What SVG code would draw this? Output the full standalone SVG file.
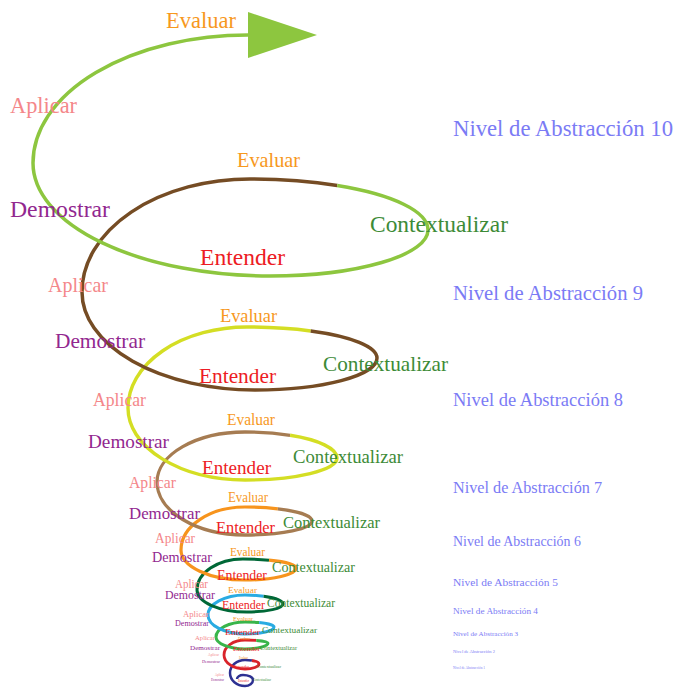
<svg xmlns="http://www.w3.org/2000/svg" width="678" height="688" viewBox="0 0 678 688">
<style>
text{font-family:"Liberation Serif","Times New Roman",serif;}
.ev{fill:#f7981d}
.ap{fill:#f4878a}
.de{fill:#92278f}
.en{fill:#ed1c24}
.co{fill:#3d8b37}
.ni{fill:#7b7bf5}
.sp{fill:none;stroke-linecap:butt}
</style>
<defs>
<marker id="head" markerUnits="userSpaceOnUse" markerWidth="70" markerHeight="46" refX="0" refY="23" orient="auto-start-reverse" viewBox="0 0 70 46">
<path d="M0,0 L69,23 L0,46 Z" fill="#8dc63f"/>
</marker>
</defs>
<rect width="678" height="688" fill="#ffffff"/>
<g id="connectors">
<path class="sp" stroke="#2e3192" stroke-width="2.5" d="M251.9,660.5 A14 4 0 0 0 245,660 A15 13 0 0 0 230,673 A15 13 0 0 0 245,686 A8 6 0 0 0 253,680 A10 5 0 0 0 243,675 A6 4 0 0 0 237,679"/>
<path class="sp" stroke="#d9232a" stroke-width="2.8" d="M256.3,640.4 A23 3 0 0 0 245,640 A21 15 0 0 0 224,655 A21 14 0 0 0 245,669 A14 5 0 0 0 259,664 A14 4 0 0 0 251.9,660.5"/>
<path class="sp" stroke="#39b54a" stroke-width="3" d="M259.2,622.6 A29 5 0 0 0 245,622 A29 15 0 0 0 216,637 A29 12 0 0 0 245,649 A23 6 0 0 0 268,643 A23 3 0 0 0 256.3,640.4"/>
<path class="sp" stroke="#29abe2" stroke-width="3" d="M263.6,596.2 A38 9 0 0 0 245,595 A37 20 0 0 0 208,615 A37 19 0 0 0 245,634 A29 7 0 0 0 274,627 A29 5 0 0 0 259.2,622.6"/>
<path class="sp" stroke="#006837" stroke-width="3" d="M269,560.2 A53 9 0 0 0 243,559 A46 31 0 0 0 197,590 A50 22 0 0 0 247,612 A36 8 0 0 0 283,604 A38 9 0 0 0 263.6,596.2"/>
<path class="sp" stroke="#f7941d" stroke-width="3.2" d="M277.8,508.8 A67 14 0 0 0 245,507 A64 43 0 0 0 181,550 A64 30 0 0 0 245,580 A51 12 0 0 0 296,568 A53 9 0 0 0 269,560.2"/>
<path class="sp" stroke="#a67c52" stroke-width="3.3" d="M290.1,435.3 A92 26 0 0 0 245,432 A88 50 0 0 0 157,482 A88 53 0 0 0 245,535 A67 14 0 0 0 312,521 A67 14 0 0 0 277.8,508.8"/>
<path class="sp" stroke="#d4de24" stroke-width="3.4" d="M310.7,331 A130 31 0 0 0 247,327 A119 81 0 0 0 128,408 A117 72 0 0 0 245,480 A92 22 0 0 0 337,458 A92 26 0 0 0 290.1,435.3"/>
<path class="sp" stroke="#754c24" stroke-width="3.5" d="M337.2,185.5 A178 51 0 0 0 250,179 A168 113 0 0 0 82,292 A173 98 0 0 0 255,390 A122 32 0 0 0 377,358 A130 31 0 0 0 310.7,331"/>
<path class="sp" stroke="#8dc63f" stroke-width="3.5" marker-start="url(#head)" d="M248,35 A215 128 0 0 0 33,163 A237 113 0 0 0 270,276 A158 46 0 0 0 428,230 A178 51 0 0 0 337.2,185.5"/>
</g>
<g id="nivel-10">
<text class="ev" x="166" y="28" font-size="23" textLength="70" lengthAdjust="spacingAndGlyphs">Evaluar</text>
<text class="ap" x="10" y="113" font-size="23" textLength="67" lengthAdjust="spacingAndGlyphs">Aplicar</text>
<text class="de" x="10" y="217" font-size="23" textLength="100" lengthAdjust="spacingAndGlyphs">Demostrar</text>
<text class="en" x="200" y="265" font-size="23" textLength="85" lengthAdjust="spacingAndGlyphs">Entender</text>
<text class="co" x="370" y="232" font-size="23" textLength="138" lengthAdjust="spacingAndGlyphs">Contextualizar</text>
<text class="ni" x="453" y="136" font-size="23" textLength="220" lengthAdjust="spacingAndGlyphs">Nivel de Abstracción 10</text>
</g>
<g id="nivel-9">
<text class="ev" x="237" y="167" font-size="21" textLength="63" lengthAdjust="spacingAndGlyphs">Evaluar</text>
<text class="ap" x="48" y="292" font-size="21" textLength="60" lengthAdjust="spacingAndGlyphs">Aplicar</text>
<text class="de" x="55" y="348" font-size="21" textLength="90" lengthAdjust="spacingAndGlyphs">Demostrar</text>
<text class="en" x="199" y="383" font-size="21" textLength="77" lengthAdjust="spacingAndGlyphs">Entender</text>
<text class="co" x="323" y="371" font-size="21" textLength="125" lengthAdjust="spacingAndGlyphs">Contextualizar</text>
<text class="ni" x="453" y="300" font-size="20.5" textLength="190" lengthAdjust="spacingAndGlyphs">Nivel de Abstracción 9</text>
</g>
<g id="nivel-8">
<text class="ev" x="220" y="322" font-size="18.7" textLength="57" lengthAdjust="spacingAndGlyphs">Evaluar</text>
<text class="ap" x="93" y="406" font-size="18.7" textLength="53" lengthAdjust="spacingAndGlyphs">Aplicar</text>
<text class="de" x="88" y="448" font-size="18.7" textLength="81" lengthAdjust="spacingAndGlyphs">Demostrar</text>
<text class="en" x="202" y="474" font-size="18.7" textLength="69" lengthAdjust="spacingAndGlyphs">Entender</text>
<text class="co" x="293" y="463" font-size="18.7" textLength="110" lengthAdjust="spacingAndGlyphs">Contextualizar</text>
<text class="ni" x="453" y="406" font-size="18.4" textLength="170" lengthAdjust="spacingAndGlyphs">Nivel de Abstracción 8</text>
</g>
<g id="nivel-7">
<text class="ev" x="227" y="425" font-size="16.3" textLength="48" lengthAdjust="spacingAndGlyphs">Evaluar</text>
<text class="ap" x="129" y="488" font-size="16.3" textLength="47" lengthAdjust="spacingAndGlyphs">Aplicar</text>
<text class="de" x="129" y="519" font-size="16.3" textLength="71" lengthAdjust="spacingAndGlyphs">Demostrar</text>
<text class="en" x="216" y="533" font-size="16.3" textLength="59" lengthAdjust="spacingAndGlyphs">Entender</text>
<text class="co" x="283" y="528" font-size="16.3" textLength="97" lengthAdjust="spacingAndGlyphs">Contextualizar</text>
<text class="ni" x="453" y="493" font-size="16" textLength="149" lengthAdjust="spacingAndGlyphs">Nivel de Abstracción 7</text>
</g>
<g id="nivel-6">
<text class="ev" x="228" y="502" font-size="13.8" textLength="40" lengthAdjust="spacingAndGlyphs">Evaluar</text>
<text class="ap" x="155" y="543" font-size="13.8" textLength="40" lengthAdjust="spacingAndGlyphs">Aplicar</text>
<text class="de" x="152" y="562" font-size="13.8" textLength="60" lengthAdjust="spacingAndGlyphs">Demostrar</text>
<text class="en" x="217" y="580" font-size="13.8" textLength="50" lengthAdjust="spacingAndGlyphs">Entender</text>
<text class="co" x="272" y="572" font-size="13.8" textLength="83" lengthAdjust="spacingAndGlyphs">Contextualizar</text>
<text class="ni" x="453" y="546" font-size="13.8" textLength="128" lengthAdjust="spacingAndGlyphs">Nivel de Abstracción 6</text>
</g>
<g id="nivel-5">
<text class="ev" x="230" y="556" font-size="11.5" textLength="35" lengthAdjust="spacingAndGlyphs">Evaluar</text>
<text class="ap" x="175" y="588" font-size="11.5" textLength="33" lengthAdjust="spacingAndGlyphs">Aplicar</text>
<text class="de" x="165" y="599" font-size="11.5" textLength="50" lengthAdjust="spacingAndGlyphs">Demostrar</text>
<text class="en" x="222" y="609" font-size="11.5" textLength="43" lengthAdjust="spacingAndGlyphs">Entender</text>
<text class="co" x="267" y="607" font-size="11.5" textLength="68" lengthAdjust="spacingAndGlyphs">Contextualizar</text>
<text class="ni" x="453" y="586" font-size="11.4" textLength="105" lengthAdjust="spacingAndGlyphs">Nivel de Abstracción 5</text>
</g>
<g id="nivel-4">
<text class="ev" x="228" y="593" font-size="9.2" textLength="29" lengthAdjust="spacingAndGlyphs">Evaluar</text>
<text class="ap" x="183" y="617" font-size="9.2" textLength="26" lengthAdjust="spacingAndGlyphs">Aplicar</text>
<text class="de" x="175" y="626" font-size="9.2" textLength="34" lengthAdjust="spacingAndGlyphs">Demostrar</text>
<text class="en" x="225" y="635" font-size="9.2" textLength="35" lengthAdjust="spacingAndGlyphs">Entender</text>
<text class="co" x="262" y="633" font-size="9.2" textLength="55" lengthAdjust="spacingAndGlyphs">Contextualizar</text>
<text class="ni" x="453" y="614" font-size="9.2" textLength="85" lengthAdjust="spacingAndGlyphs">Nivel de Abstracción 4</text>
</g>
<g id="nivel-3">
<text class="ev" x="233" y="621" font-size="7" textLength="20" lengthAdjust="spacingAndGlyphs">Evaluar</text>
<text class="ap" x="195" y="640" font-size="7" textLength="20" lengthAdjust="spacingAndGlyphs">Aplicar</text>
<text class="de" x="190" y="650" font-size="7" textLength="30" lengthAdjust="spacingAndGlyphs">Demostrar</text>
<text class="en" x="233" y="651" font-size="7" textLength="27" lengthAdjust="spacingAndGlyphs">Entender</text>
<text class="co" x="260" y="650" font-size="7" textLength="37" lengthAdjust="spacingAndGlyphs">Contextualizar</text>
<text class="ni" x="453" y="636" font-size="7" textLength="65" lengthAdjust="spacingAndGlyphs">Nivel de Abstracción 3</text>
</g>
<g id="nivel-2">
<text class="ev" x="238" y="640" font-size="4.5" textLength="12" lengthAdjust="spacingAndGlyphs">Evaluar</text>
<text class="ap" x="208" y="656" font-size="4.5" textLength="11" lengthAdjust="spacingAndGlyphs">Aplicar</text>
<text class="de" x="202" y="663" font-size="4.5" textLength="18" lengthAdjust="spacingAndGlyphs">Demostrar</text>
<text class="en" x="234" y="668" font-size="4.5" textLength="15" lengthAdjust="spacingAndGlyphs">Entender</text>
<text class="co" x="257" y="668" font-size="4.5" textLength="24" lengthAdjust="spacingAndGlyphs">Contextualizar</text>
<text class="ni" x="453" y="653" font-size="4.5" textLength="42" lengthAdjust="spacingAndGlyphs">Nivel de Abstracción 2</text>
</g>
<g id="nivel-1">
<text class="ev" x="239" y="659" font-size="3.3" textLength="9" lengthAdjust="spacingAndGlyphs">Evaluar</text>
<text class="ap" x="215" y="676" font-size="3.3" textLength="9" lengthAdjust="spacingAndGlyphs">Aplicar</text>
<text class="de" x="211" y="681" font-size="3.3" textLength="13" lengthAdjust="spacingAndGlyphs">Demostrar</text>
<text class="en" x="238" y="682" font-size="3.3" textLength="11" lengthAdjust="spacingAndGlyphs">Entender</text>
<text class="co" x="253" y="681" font-size="3.3" textLength="18" lengthAdjust="spacingAndGlyphs">Contextualizar</text>
<text class="ni" x="453" y="669" font-size="3.5" textLength="32" lengthAdjust="spacingAndGlyphs">Nivel de Abstracción 1</text>
</g>
</svg>
